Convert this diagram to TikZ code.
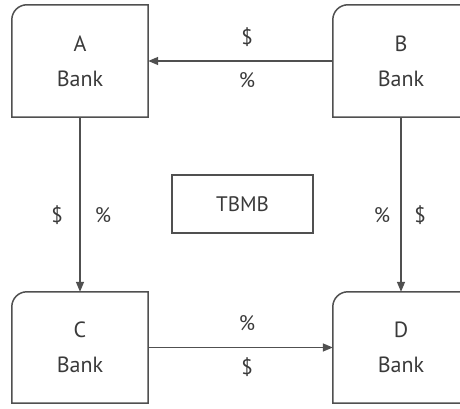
\documentclass[tikz,border=0pt]{standalone}
\usepackage{fontspec}
\setmainfont{PT Sans}
\usetikzlibrary{arrows.meta,calc}
\definecolor{linegray}{HTML}{505050}
\definecolor{textgray}{HTML}{3a3a3a}
\tikzset{
  bankbox/.style={minimum width=136pt, minimum height=112pt, inner sep=0pt, align=center,
    text=textgray, font=\fontsize{22}{35}\selectfont},
  plainbox/.style={draw=linegray, line width=1.5pt, minimum width=141pt, minimum height=58pt,
    inner sep=0pt, text=textgray, font=\fontsize{21}{24}\selectfont},
  boxline/.style={draw=linegray, line width=1.5pt},
  flow/.style={draw=linegray, line width=1.5pt, -{Triangle[length=10pt,width=8pt]}},
  sym/.style={text=textgray, font=\fontsize{21}{24}\selectfont, inner sep=0pt}
}
\begin{document}
\begin{tikzpicture}[x=1pt,y=1pt]
\useasboundingbox (0,0) rectangle (460,409);
\fill[white] (0,0) rectangle (460,409);
\clip (0,0) rectangle (460,409);
\node[bankbox] (A) at (80,348) {A\\Bank};
\node[bankbox] (B) at (401,348) {B\\Bank};
\node[bankbox, minimum height=111pt] (C) at (80,61.5) {C\\Bank};
\node[bankbox, minimum height=111pt] (D) at (401,61.5) {D\\Bank};
\foreach \n in {A,B,C,D}{
  \draw[boxline] (\n.south west) -- ($(\n.north west)+(0,-15)$)
    arc[start angle=180, end angle=90, radius=15] -- (\n.north east)
    -- (\n.south east) -- cycle;
}
\node[plainbox] (T) at (242.5,205) {TBMB};
\draw[flow] (B.west) -- (A.east);
\draw[flow] (A.south) -- (C.north);
\draw[flow] (B.south) -- (D.north);
\draw[flow] (C.east) -- (D.west);
\node[sym] (ab1) at (247,372) {\$};
\node[sym] (ab2) at (247,329) {\%};
\node[sym] (ac1) at (57,194) {\$};
\node[sym] (ac2) at (103,194) {\%};
\node[sym] (bd1) at (382,194) {\%};
\node[sym] (bd2) at (420,194) {\$};
\node[sym] (cd1) at (247,86) {\%};
\node[sym] (cd2) at (247,42) {\$};
\end{tikzpicture}
\end{document}
